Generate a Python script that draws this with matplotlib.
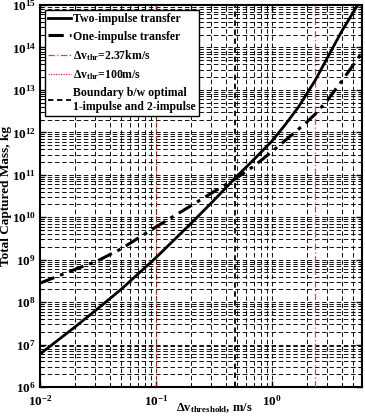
import matplotlib
matplotlib.use("Agg")
import matplotlib.pyplot as plt
from matplotlib.ticker import LogLocator, NullFormatter, LogFormatterMathtext

# data (delta-v threshold in m/s, mass in kg)
dv_two = [0.01, 0.02, 0.0316, 0.05, 0.1, 0.2, 0.316, 0.48, 0.7, 1.0, 1.3, 1.7, 2.37, 3.0, 4.0, 5.5]
mass_two = [6.0e6, 2.6e7, 7.1e7, 2.0e8, 1.12e9, 7.1e9, 2.5e10, 8.3e10, 2.3e11, 6.2e11,
            1.5e12, 4.0e12, 1.7e13, 5.6e13, 2.4e14, 1.0e15]

dv_one = [0.01, 0.02, 0.0316, 0.05, 0.1, 0.2, 0.316, 0.48, 0.7, 1.0, 1.5, 2.0, 2.37, 3.0, 4.0, 6.0]
mass_one = [2.8e8, 5.9e8, 9.5e8, 1.8e9, 5.9e9, 1.86e10, 4.0e10, 7.9e10, 1.6e11, 3.5e11,
            8.9e11, 1.75e12, 2.7e12, 5.6e12, 1.6e13, 7.6e13]

dv_thr_high = 2.37
dv_thr_low = 0.1
dv_boundary = 0.48

x_limits = (0.01, 6.0)
y_limits = (1e6, 1e15)

plt.rcParams['font.family'] = ['Liberation Serif', 'DejaVu Serif']
plt.rcParams['font.weight'] = 'bold'
plt.rcParams['axes.labelweight'] = 'bold'
plt.rcParams['mathtext.fontset'] = 'custom'
plt.rcParams['mathtext.rm'] = 'Liberation Serif:bold'
plt.rcParams['mathtext.bf'] = 'Liberation Serif:bold'
plt.rcParams['mathtext.it'] = 'Liberation Serif:bold'

fig = plt.figure(figsize=(3.65, 4.17), dpi=100)
ax = fig.add_axes([0.110, 0.072, 0.882, 0.916])

ax.set_xscale('log')
ax.set_yscale('log')

ax.plot(dv_two, mass_two, color='black', lw=2.0, label='Two-impulse transfer', zorder=5)
ax.plot(dv_one, mass_one, color='black', lw=2.2, dashes=(5, 2, 1.2, 2),
        label='One-impulse transfer', zorder=5)
ax.axvline(dv_thr_high, color='#e8402a', lw=0.9, dashes=(5, 2, 1, 2),
           label=r'$\mathbf{\Delta v_{thr}}$=2.37km/s', zorder=4)
ax.axvline(dv_thr_low, color='#d83a28', lw=0.9, dashes=(1, 1),
           label=r'$\mathbf{\Delta v_{thr}}$=100m/s', zorder=4)
ax.axvline(dv_boundary, color='black', lw=1.3, dashes=(3, 2),
           label='Boundary b/w optimal\n1-impulse and 2-impulse', zorder=4)

ax.set_xlim(*x_limits)
ax.set_ylim(*y_limits)

ax.xaxis.set_major_locator(LogLocator(base=10, numticks=10))
ax.xaxis.set_minor_locator(LogLocator(base=10, subs=range(2, 10), numticks=20))
ax.yaxis.set_major_locator(LogLocator(base=10, numticks=20))
ax.yaxis.set_minor_locator(LogLocator(base=10, subs=range(2, 10), numticks=30))
ax.xaxis.set_major_formatter(LogFormatterMathtext())
ax.yaxis.set_major_formatter(LogFormatterMathtext())
ax.xaxis.set_minor_formatter(NullFormatter())
ax.yaxis.set_minor_formatter(NullFormatter())

ax.grid(True, which='both', color='black', lw=0.65, dashes=(5, 3))
ax.tick_params(which='both', direction='in', top=True, right=True, labelsize=9.5)
ax.tick_params(which='major', length=4, width=1, pad=3)
ax.tick_params(axis='x', which='major', pad=5)
ax.tick_params(which='minor', length=2.5, width=0.8)
for sp in ax.spines.values():
    sp.set_linewidth(1.5)

ax.set_xlabel(r'$\mathbf{\Delta v_{threshold}}$, m/s', fontsize=9)
ax.xaxis.set_label_coords(0.54, -0.037)
ax.set_ylabel('Total Captured Mass, kg', fontsize=9.5)
ax.yaxis.set_label_coords(-0.086, 0.5)

leg = ax.legend(loc='upper left', fontsize=8.5, frameon=True, fancybox=False,
                handlelength=1.9, handletextpad=0.2, borderpad=0.3,
                labelspacing=0.45, borderaxespad=0.4)
leg.get_frame().set_edgecolor('black')
leg.get_frame().set_linewidth(1.0)
leg.get_frame().set_alpha(1.0)

fig.savefig('out.png', dpi=100)
